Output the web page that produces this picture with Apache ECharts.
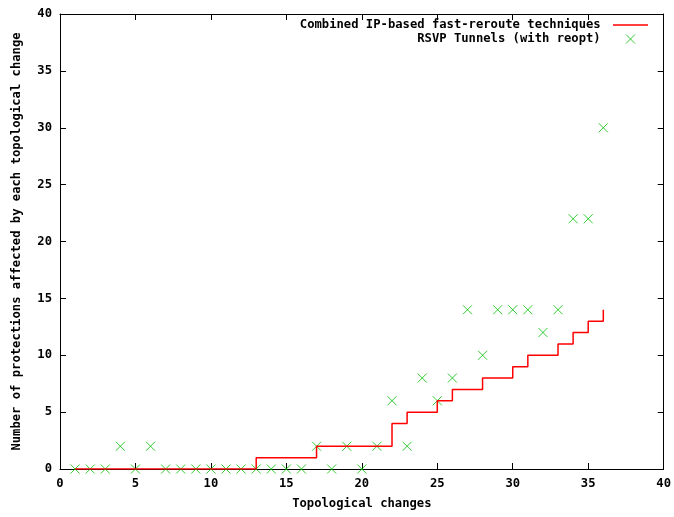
<!DOCTYPE html>
<html>
<head>
	<meta charset="utf-8">
	<title>Topological changes</title>
	<script type="text/javascript" src="https://cdn.jsdelivr.net/npm/echarts@6/dist/echarts.min.js"></script>
	<style type="text/css">
		html, body { margin: 0; padding: 0; background: #fff; }
		#chart { width: 674px; height: 517px; }
	</style>
</head>
<body>
<div id="chart"></div>
<script type="text/javascript">
	// values
	var changes = [1,2,3,4,5,6,7,8,9,10,11,12,13,14,15,16,17,18,19,20,21,22,23,24,25,26,27,28,29,30,31,32,33,34,35,36];
	var combined = [0,0,0,0,0,0,0,0,0,0,0,0,1,1,1,1,2,2,2,2,2,4,5,5,6,7,7,8,8,9,10,10,11,12,13,14];
	var rsvp = [0,0,0,2,0,2,0,0,0,0,0,0,0,0,0,0,2,0,2,0,2,6,2,8,6,8,14,10,14,14,14,12,14,22,22,30];
	var xTicks = [0,5,10,15,20,25,30,35,40];
	var yTicks = [0,5,10,15,20,25,30,35,40];

	var font = '"DejaVu Sans Mono", monospace';
	var crossPath = 'path://M0,0L10,10M10,0L0,10';
	var linePath = 'path://M0,0H35V1.5H0Z';

	function pairs(xs, ys) {
		var out = [];
		for (var i = 0; i < xs.length; i++) out.push([xs[i], ys[i]]);
		return out;
	}

	var axisBase = {
		type: 'value', min: 0, max: 40, interval: 5,
		axisLine: { show: true, onZero: false, lineStyle: { color: '#000', width: 1 } },
		axisTick: { show: true, inside: true, length: 6, lineStyle: { color: '#000' } },
		splitLine: { show: false }
	};
	function axis(extra) {
		return Object.assign({}, axisBase, extra);
	}
	var labelStyle = { color: '#000', fontFamily: font, fontWeight: 'bold', fontSize: 12.2 };

	var myChart = echarts.init(document.getElementById('chart'), null, { renderer: 'canvas' });
	var option = {
		animation: false,
		backgroundColor: '#fff',
		grid: { left: 60, right: 8, top: 14, bottom: 48 },
		legend: {
			right: 21, top: 14, orient: 'vertical', align: 'right',
			itemWidth: 35, itemHeight: 9, itemGap: 1,
			symbolKeepAspect: true,
			formatter: '{name} ',
			textStyle: { color: '#000', fontFamily: font, fontWeight: 'bold', fontSize: 12.2 },
			data: [
				{ name: 'Combined IP-based fast-reroute techniques', icon: linePath, itemStyle: { color: '#ff0000' } },
				{ name: 'RSVP Tunnels (with reopt)', itemStyle: { borderWidth: 1 } }
			]
		},
		xAxis: [
			axis({
				position: 'bottom',
				name: 'Topological changes', nameLocation: 'middle', nameGap: 29,
				nameTextStyle: labelStyle,
				axisLabel: Object.assign({ margin: 9, formatter: function (v) { return xTicks.indexOf(v) >= 0 ? v : ''; } }, labelStyle)
			}),
			axis({ position: 'top', axisLabel: { show: false } })
		],
		yAxis: [
			axis({
				position: 'left',
				name: 'Number of protections affected by each topological change', nameLocation: 'middle', nameGap: 37,
				nameTextStyle: labelStyle,
				axisLabel: Object.assign({ margin: 8, formatter: function (v) { return yTicks.indexOf(v) >= 0 ? v : ''; } }, labelStyle)
			}),
			axis({ position: 'right', axisLabel: { show: false } })
		],
		series: [
			{
				name: 'Combined IP-based fast-reroute techniques',
				type: 'line', step: 'end', symbol: 'none',
				xAxisIndex: 0, yAxisIndex: 0,
				lineStyle: { color: '#ff0000', width: 1.5 },
				itemStyle: { color: '#ff0000' },
				data: pairs(changes, combined)
			},
			{
				name: 'RSVP Tunnels (with reopt)',
				type: 'scatter', symbol: crossPath, symbolSize: 9,
				xAxisIndex: 0, yAxisIndex: 0,
				itemStyle: { color: 'none', borderColor: '#00c000', borderWidth: 1 },
				data: pairs(changes, rsvp)
			}
		]
	};
	myChart.setOption(option);
</script>
</body>
</html>
